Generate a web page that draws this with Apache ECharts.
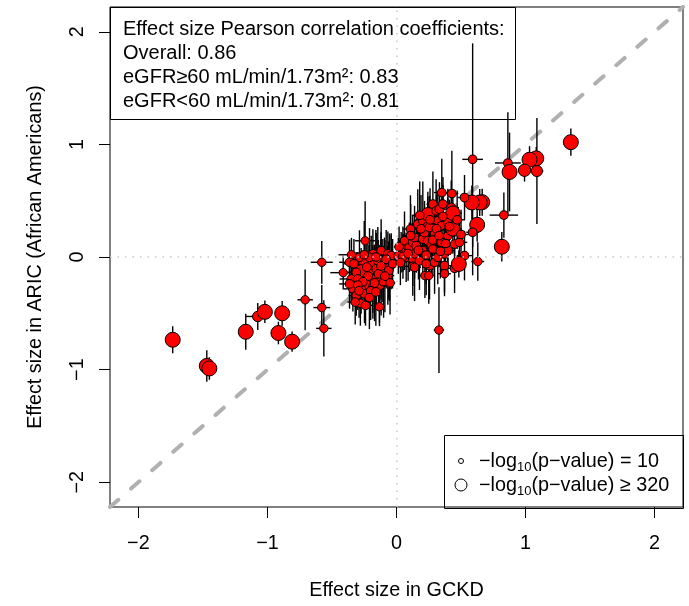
<!DOCTYPE html>
<html>
<head>
<meta charset="utf-8">
<script src="https://cdn.jsdelivr.net/npm/echarts@6/dist/echarts.min.js"></script>
<style>
  html, body { margin: 0; padding: 0; background: #fff; }
  #main { width: 689px; height: 606px; }
</style>
</head>
<body>
<div id="main"></div>
<script>
// effect sizes (GCKD on x, ARIC AA on y), with error half-widths
var gckd = [
  -1.734, -1.47, -1.45, -1.168, -1.075, -1.02, -0.886, -0.915, -0.809, -0.708,
  -0.579, -0.579, -0.563, -0.413, -0.349, -0.243,
  -0.183, -0.119, -0.067, -0.041, -0.248, -0.196, -0.145, -0.093, -0.274, -0.209,
  -0.157, -0.106, -0.054, -0.312, -0.351, -0.30, -0.235, -0.183, -0.119, -0.067,
  -0.338, -0.274, -0.183, -0.132, -0.312, -0.248, -0.28, -0.24, -0.132, -0.364,
  -0.287, -0.209, -0.364, -0.041, -0.08, -0.16, -0.22, -0.14, -0.26, -0.10,
  -0.20, -0.30, -0.06,
  -0.33, -0.25, -0.12, -0.17, -0.29, -0.21, -0.09, -0.03, -0.16, -0.32,
  -0.23, -0.05,
  0.05, 0.075, 0.126, 0.036, 0.014, 0.05, 0.062, 0.10, 0.108, 0.126,
  0.126, 0.14, 0.14, 0.14, 0.153, 0.165, 0.178, 0.204, 0.204, 0.204,
  0.217, 0.23, 0.243, 0.243, 0.243, 0.256, 0.256, 0.27, 0.282, 0.282,
  0.295, 0.295, 0.307, 0.32, 0.32, 0.333, 0.346, 0.346, 0.351, 0.36,
  0.372, 0.372, 0.398, 0.398, 0.398, 0.398, 0.424, 0.429, 0.437, 0.437,
  0.45, 0.45, 0.488, 0.527,
  0.03, 0.09, 0.11, 0.17, 0.19, 0.26, 0.28, 0.31, 0.34, 0.36,
  0.38, 0.41, 0.47, 0.50, 0.02, 0.33, 0.23, 0.18,
  0.329, 0.63, 0.372, 0.22, 0.25, 0.625, 0.483, 0.59, 1.351, 1.088,
  1.083, 1.031, 0.992, 0.863, 0.876, 0.832, 0.816, 0.59, 0.664, 0.645,
  0.584, 0.527
];
var aric = [
  -0.735, -0.967, -0.99, -0.664, -0.528, -0.487, -0.50, -0.675, -0.752, -0.38,
  -0.047, -0.449, -0.634, -0.139, 0.02, 0.144,
  0.027, 0.056, 0.027, -0.047, -0.047, -0.062, -0.033, -0.047, -0.121, -0.121,
  -0.106, -0.121, -0.091, -0.136, -0.195, -0.195, -0.245, -0.195, -0.18, -0.165,
  -0.283, -0.283, -0.268, -0.254, -0.342, -0.327, -0.41, -0.43, -0.442, -0.047,
  -0.003, -0.003, -0.239, 0.012, -0.02, 0.0, -0.17, -0.15, -0.22, -0.22,
  -0.30, -0.25, -0.12,
  -0.06, 0.02, -0.08, -0.23, -0.30, -0.36, -0.17, -0.06, -0.31, -0.40,
  -0.09, -0.23,
  0.07, -0.003, -0.018, 0.042, 0.01, 0.006, 0.144, 0.086, 0.248, 0.13,
  -0.083, 0.174, 0.027, -0.091, 0.10, 0.292, -0.033, 0.321, 0.16, 0.056,
  0.218, 0.018, 0.38, 0.277, 0.144, 0.263, -0.077, 0.10, 0.469, 0.071,
  0.204, -0.047, 0.41, 0.321, -0.003, 0.425, 0.277, 0.13, 0.572, 0.47,
  0.027, -0.077, 0.345, 0.307, 0.188, 0.056, 0.439, 0.564, 0.389, 0.248,
  0.115, -0.10, 0.13, 0.012,
  -0.05, 0.03, 0.19, 0.06, 0.25, 0.33, 0.15, 0.25, 0.05, 0.36,
  0.12, 0.27, 0.33, 0.20, 0.09, 0.19, -0.06, 0.37,
  -0.649, -0.04, -0.148, -0.165, -0.165, 0.286, -0.062, 0.22, 1.02, 0.764,
  0.876, 0.864, 0.77, 0.835, 0.755, 0.372, 0.091, 0.867, 0.487, 0.484,
  0.484, 0.528
];
var gckdErr = [
  0.03, 0.03, 0.03, 0.04, 0.09, 0.03, 0.03, 0.03, 0.03, 0.06,
  0.085, 0.065, 0.06, 0.10, 0.10, 0.08,
  0.06, 0.05, 0.04, 0.05, 0.07, 0.06, 0.05, 0.06, 0.08, 0.06,
  0.05, 0.05, 0.04, 0.09, 0.09, 0.07, 0.06, 0.06, 0.05, 0.05,
  0.07, 0.06, 0.06, 0.05, 0.06, 0.05, 0.06, 0.05, 0.04, 0.08,
  0.07, 0.06, 0.08, 0.05, 0.05, 0.06, 0.06, 0.05, 0.07, 0.05,
  0.06, 0.07, 0.04,
  0.08, 0.06, 0.05, 0.06, 0.07, 0.05, 0.05, 0.04, 0.05, 0.06,
  0.06, 0.04,
  0.05, 0.05, 0.06, 0.04, 0.04, 0.05, 0.05, 0.05, 0.06, 0.06,
  0.06, 0.06, 0.05, 0.05, 0.06, 0.06, 0.05, 0.07, 0.06, 0.05,
  0.06, 0.05, 0.07, 0.06, 0.06, 0.06, 0.05, 0.06, 0.05, 0.05,
  0.06, 0.05, 0.06, 0.06, 0.05, 0.07, 0.06, 0.06, 0.06, 0.06,
  0.05, 0.05, 0.06, 0.06, 0.06, 0.05, 0.06, 0.05, 0.07, 0.07,
  0.06, 0.05, 0.06, 0.06,
  0.04, 0.05, 0.06, 0.05, 0.06, 0.06, 0.05, 0.06, 0.05, 0.06,
  0.05, 0.06, 0.06, 0.06, 0.04, 0.06, 0.05, 0.06,
  0.04, 0.05, 0.05, 0.05, 0.04, 0.05, 0.04, 0.05, 0.04, 0.05,
  0.04, 0.04, 0.05, 0.10, 0.04, 0.11, 0.03, 0.08, 0.05, 0.05,
  0.05, 0.05
];
var aricErr = [
  0.12, 0.14, 0.10, 0.16, 0.12, 0.10, 0.11, 0.10, 0.09, 0.27,
  0.19, 0.20, 0.25, 0.15, 0.15, 0.35,
  0.22, 0.28, 0.20, 0.24, 0.18, 0.25, 0.30, 0.22, 0.20, 0.26,
  0.32, 0.28, 0.30, 0.18, 0.22, 0.24, 0.16, 0.30, 0.34, 0.26,
  0.20, 0.22, 0.28, 0.36, 0.18, 0.26, 0.20, 0.18, 0.14, 0.20,
  0.24, 0.26, 0.22, 0.20, 0.26, 0.24, 0.28, 0.30, 0.24, 0.32,
  0.26, 0.22, 0.26,
  0.22, 0.30, 0.30, 0.34, 0.24, 0.28, 0.32, 0.22, 0.30, 0.20,
  0.26, 0.28,
  0.20, 0.22, 0.24, 0.18, 0.16, 0.20, 0.26, 0.22, 0.30, 0.24,
  0.26, 0.28, 0.22, 0.30, 0.24, 0.31, 0.26, 0.35, 0.26, 0.24,
  0.28, 0.26, 0.20, 0.26, 0.24, 0.28, 0.30, 0.26, 0.29, 0.24,
  0.26, 0.28, 0.28, 0.26, 0.24, 0.24, 0.24, 0.26, 0.30, 0.24,
  0.22, 0.24, 0.26, 0.22, 0.24, 0.22, 0.24, 0.38, 0.20, 0.22,
  0.24, 0.22, 0.20, 0.22,
  0.20, 0.24, 0.28, 0.26, 0.30, 0.28, 0.26, 0.30, 0.24, 0.28,
  0.26, 0.24, 0.26, 0.22, 0.18, 0.28, 0.28, 0.30,
  0.38, 0.17, 0.20, 0.20, 0.25, 0.15, 0.12, 0.13, 0.12, 0.47,
  0.10, 0.12, 0.10, 0.45, 0.35, 0.20, 0.13, 1.03, 0.12, 0.12,
  0.15, 0.20
];
// -log10(p) of the association, drives the point size
var logP = [
  320, 320, 320, 320, 120, 320, 320, 320, 320, 30,
  30, 30, 30, 25, 25, 25,
  40, 35, 40, 45, 180, 50, 40, 45, 180, 50,
  40, 45, 40, 40, 35, 45, 320, 50, 40, 35,
  40, 50, 40, 35, 40, 45, 35, 35, 30, 35,
  40, 45, 40, 40, 45, 40, 50, 40, 45, 40,
  40, 40, 45,
  40, 40, 45, 40, 45, 40, 40, 40, 40, 35,
  50, 35,
  50, 40, 45, 60, 60, 40, 40, 60, 40, 45,
  40, 40, 45, 40, 50, 40, 45, 40, 50, 40,
  60, 40, 250, 50, 60, 60, 40, 45, 40, 40,
  40, 40, 40, 40, 40, 60, 40, 40, 40, 40,
  40, 40, 60, 40, 40, 40, 60, 40, 300, 280,
  40, 40, 40, 40,
  45, 50, 40, 45, 40, 45, 40, 50, 40, 45,
  40, 50, 40, 40, 40, 45, 40, 40,
  30, 30, 30, 30, 30, 320, 320, 40, 320, 150,
  320, 320, 200, 40, 320, 40, 320, 40, 320, 320,
  320, 40
];
var tickValues = [-2, -1, 0, 1, 2];
var axisMin = -2.22, axisMax = 2.22;

var corrTitle = 'Effect size Pearson correlation coefficients:';
var corrLines = ['Overall: 0.86', 'eGFR\u226560 mL/min/1.73m\u00b2: 0.83', 'eGFR<60 mL/min/1.73m\u00b2: 0.81'];

var FONT = 'Liberation Sans';
var FS = 19.8;

function minus(v) {
  return v < 0 ? '\u2212' + Math.abs(v) : String(v);
}
function pointSize(lp) {
  var p = Math.min(lp, 320);
  return 8 + (p - 10) / 310 * 7;
}

var points = [], bars = [];
for (var i = 0; i < gckd.length; i++) {
  points.push([gckd[i], aric[i], logP[i]]);
  bars.push([gckd[i], aric[i], gckdErr[i], aricErr[i]]);
}

var chart = echarts.init(document.getElementById('main'), null, { renderer: 'canvas' });

var axisCommon = {
  type: 'value',
  min: axisMin,
  max: axisMax,
  splitLine: { show: false },
  axisLine: { show: false, onZero: false },
  axisTick: {
    show: true, inside: false, length: 11, customValues: tickValues,
    lineStyle: { color: '#000', width: 1 }
  },
  axisLabel: {
    customValues: tickValues, formatter: minus,
    color: '#000', fontFamily: FONT, fontSize: FS
  },
  nameLocation: 'middle',
  nameTextStyle: { color: '#000', fontFamily: FONT, fontSize: FS }
};

var option = {
  animation: false,
  backgroundColor: '#fff',
  grid: {
    left: 110, right: 6, top: 7, bottom: 98,
    show: true, borderColor: '#000', borderWidth: 1, backgroundColor: 'transparent'
  },
  xAxis: echarts.util.merge({
    name: 'Effect size in GCKD', nameGap: 74,
    axisLabel: { margin: 27 }
  }, axisCommon),
  yAxis: echarts.util.merge({
    name: 'Effect size in ARIC (African Americans)', nameGap: 64, nameRotate: 90,
    axisLabel: { margin: 22, rotate: 90 }
  }, axisCommon),
  series: [
    {
      // identity line
      type: 'line',
      data: [[axisMin, axisMin], [axisMax, axisMax]],
      symbol: 'none',
      silent: true,
      z: 1,
      lineStyle: { color: '#b0b0b0', width: 4, type: [11, 17], cap: 'round' },
      markLine: {
        silent: true,
        symbol: 'none',
        label: { show: false },
        lineStyle: { color: '#c8c8c8', width: 1.5, type: [1.5, 6] },
        data: [{ xAxis: 0 }, { yAxis: 0 }]
      }
    },
    {
      type: 'custom',
      data: bars,
      clip: true,
      silent: true,
      z: 2,
      renderItem: function (params, api) {
        var x = api.value(0), y = api.value(1), xe = api.value(2), ye = api.value(3);
        var l = api.coord([x - xe, y]), r = api.coord([x + xe, y]);
        var t = api.coord([x, y + ye]), b = api.coord([x, y - ye]);
        var st = { stroke: '#000', lineWidth: 1.4 };
        return {
          type: 'group',
          children: [
            { type: 'line', shape: { x1: l[0], y1: l[1], x2: r[0], y2: r[1] }, style: st },
            { type: 'line', shape: { x1: t[0], y1: t[1], x2: b[0], y2: b[1] }, style: st }
          ]
        };
      }
    },
    {
      type: 'scatter',
      data: points,
      z: 3,
      symbol: 'circle',
      symbolSize: function (v) { return pointSize(v[2]); },
      itemStyle: { color: '#ff0000', borderColor: '#000', borderWidth: 1, opacity: 1 }
    }
  ],
  graphic: [
    // correlation box, top left
    {
      type: 'rect', left: 110, top: 7, z: 10,
      shape: { width: 405, height: 112 },
      style: { fill: 'transparent', stroke: '#000', lineWidth: 1 }
    },
    {
      type: 'text', left: 123, top: 18, z: 10,
      style: {
        text: [corrTitle].concat(corrLines).join('\n'),
        fill: '#000', font: '20px "' + FONT + '"', lineHeight: 23.8
      }
    },
    // size key, bottom right
    {
      type: 'rect', left: 444, top: 435, z: 10,
      shape: { width: 239, height: 73 },
      style: { fill: 'transparent', stroke: '#000', lineWidth: 1 }
    },
    {
      type: 'circle', z: 10,
      shape: { cx: 461, cy: 461, r: 2.5 },
      style: { fill: 'transparent', stroke: '#000', lineWidth: 1 }
    },
    {
      type: 'circle', z: 10,
      shape: { cx: 461, cy: 485, r: 6 },
      style: { fill: 'transparent', stroke: '#000', lineWidth: 1 }
    },
    {
      type: 'text', left: 479, top: 452, z: 10,
      style: {
        text: '{a|\u2212log}{s|10}{a|(p\u2212value) = 10}\n{a|\u2212log}{s|10}{a|(p\u2212value) \u2265 320}',
        fill: '#000',
        rich: {
          a: { fontFamily: FONT, fontSize: FS, lineHeight: 24, verticalAlign: 'middle' },
          s: { fontFamily: FONT, fontSize: 13, lineHeight: 24, verticalAlign: 'bottom', padding: [6, 0, 0, 0] }
        }
      }
    }
  ]
};

chart.setOption(option);
</script>
</body>
</html>
